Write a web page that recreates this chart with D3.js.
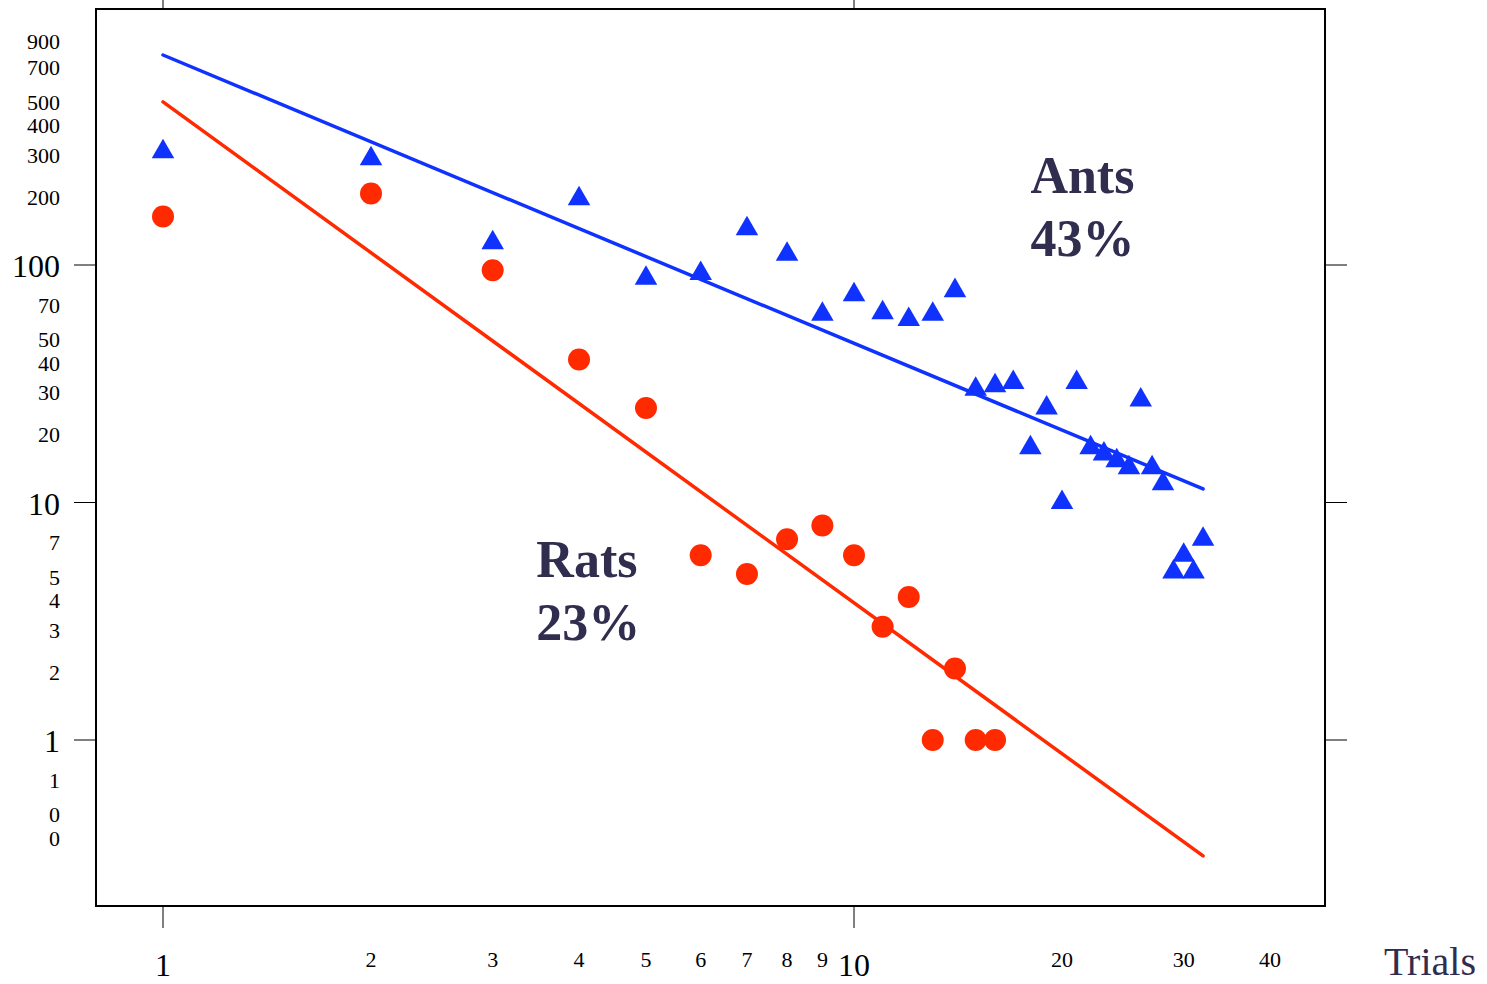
<!DOCTYPE html>
<html>
<head>
<meta charset="utf-8">
<script src="https://cdn.jsdelivr.net/npm/d3@7"></script>
<style>
  body { margin: 0; background: #fff; }
  text { font-family: "Liberation Serif", "Times New Roman", serif; }
</style>
</head>
<body>
<div id="chart"></div>
<script>
// data
var trials = [1,2,3,4,5,6,7,8,9,10,11,12,13,14,15,16,17,18,19,20,21,22,23,24,25,26,27,28,29,30,31,32];
var ants = [300,280,124,190,88,92,142,111,62,75,63,59,62,78,30,31,32,17,25,10,32,17,16,15,14,27,14,12,5.1,6,5.1,7];
var ratTrials = [1,2,3,4,5,6,7,8,9,10,11,12,13,14,15,16];
var rats = [160,200,95,40,25,6,5,7,8,6,3,4,1,2,1,1];
// fitted lines (end points)
var antsFit = [[1, 766], [32, 11.4]];
var ratsFit = [[1, 486], [32, 0.325]];

var yTicks = [900,700,500,400,300,200,100,70,50,40,30,20,10,7,5,4,3,2,1,0.7,0.5,0.4];
var yLabels = ["900","700","500","400","300","200","100","70","50","40","30","20","10","7","5","4","3","2","1","1","0","0"];
var yMajor = [100, 10, 1];
var xTicks = [1,2,3,4,5,6,7,8,9,10,20,30,40];
var xLabels = ["1","2","3","4","5","6","7","8","9","10","20","30","40"];
var xMajor = [1, 10];

var W = 1487, H = 984;
var box = {left: 96, right: 1325, top: 9, bottom: 906};

var svg = d3.select("#chart").append("svg")
  .attr("width", W).attr("height", H);

var x = d3.scaleLog().domain([1, 10]).range([163, 854]);
var y = d3.scaleLog().domain([1, 100]).range([740, 265]);

var blue = "#0f32ff", red = "#ff2a00", ink = "#302d4f";

// frame
svg.append("rect")
  .attr("x", box.left).attr("y", box.top)
  .attr("width", box.right - box.left).attr("height", box.bottom - box.top)
  .attr("fill", "none").attr("stroke", "#000").attr("stroke-width", 2);

// major ticks on all four sides
svg.selectAll(".xt").data(xMajor).enter().append("line")
  .attr("x1", d => x(d)).attr("x2", d => x(d))
  .attr("y1", box.bottom).attr("y2", box.bottom + 22)
  .attr("stroke", "#000").attr("stroke-width", 1);
svg.selectAll(".xtt").data(xMajor).enter().append("line")
  .attr("x1", d => x(d)).attr("x2", d => x(d))
  .attr("y1", box.top).attr("y2", 0)
  .attr("stroke", "#000").attr("stroke-width", 1);
svg.selectAll(".yt").data(yMajor).enter().append("line")
  .attr("x1", box.left - 22).attr("x2", box.left)
  .attr("y1", d => y(d)).attr("y2", d => y(d))
  .attr("stroke", "#000").attr("stroke-width", 1);
svg.selectAll(".ytr").data(yMajor).enter().append("line")
  .attr("x1", box.right).attr("x2", box.right + 22)
  .attr("y1", d => y(d)).attr("y2", d => y(d))
  .attr("stroke", "#000").attr("stroke-width", 1);

// y tick labels
svg.selectAll(".yl").data(yTicks).enter().append("text")
  .attr("x", 60)
  .attr("y", d => y(d) + (yMajor.includes(d) ? 12 : 11))
  .attr("text-anchor", "end")
  .attr("font-size", d => yMajor.includes(d) ? 32 : 22)
  .attr("fill", "#000")
  .text((d, i) => yLabels[i]);

// x tick labels
svg.selectAll(".xl").data(xTicks).enter().append("text")
  .attr("x", d => x(d))
  .attr("y", d => xMajor.includes(d) ? 976 : 967)
  .attr("text-anchor", "middle")
  .attr("font-size", d => xMajor.includes(d) ? 32 : 22)
  .attr("fill", "#000")
  .text((d, i) => xLabels[i]);

svg.append("text")
  .attr("x", 1476).attr("y", 975)
  .attr("text-anchor", "end")
  .attr("font-size", 40)
  .attr("fill", ink)
  .text("Trials");

// fit lines
var line = d3.line().x(d => x(d[0])).y(d => y(d[1]));
svg.append("path").datum(antsFit).attr("d", line)
  .attr("stroke", blue).attr("stroke-width", 3.5).attr("fill", "none").attr("stroke-linecap", "round");
svg.append("path").datum(ratsFit).attr("d", line)
  .attr("stroke", red).attr("stroke-width", 3.5).attr("fill", "none").attr("stroke-linecap", "round");

// rats points
svg.selectAll(".rat").data(rats).enter().append("circle")
  .attr("cx", (d, i) => x(ratTrials[i]))
  .attr("cy", d => y(d))
  .attr("r", 11)
  .attr("fill", red);

// ants points
var tri = d3.symbol().type(d3.symbolTriangle).size(220);
svg.selectAll(".ant").data(ants).enter().append("path")
  .attr("d", tri)
  .attr("transform", (d, i) => "translate(" + x(trials[i]) + "," + y(d) + ")")
  .attr("fill", blue);

// labels (anchored in data units)
var lab = [
  {t1: "Ants", t2: "43%", at: [18, 201]},
  {t1: "Rats", t2: "23%", at: [3.47, 4.86]}
];
lab.forEach(function(l) {
  var g = svg.append("text")
    .attr("font-size", 52).attr("font-weight", "bold").attr("fill", ink);
  g.append("tspan").attr("x", x(l.at[0])).attr("y", y(l.at[1])).text(l.t1);
  g.append("tspan").attr("x", x(l.at[0])).attr("dy", 63).text(l.t2);
});
</script>
</body>
</html>
